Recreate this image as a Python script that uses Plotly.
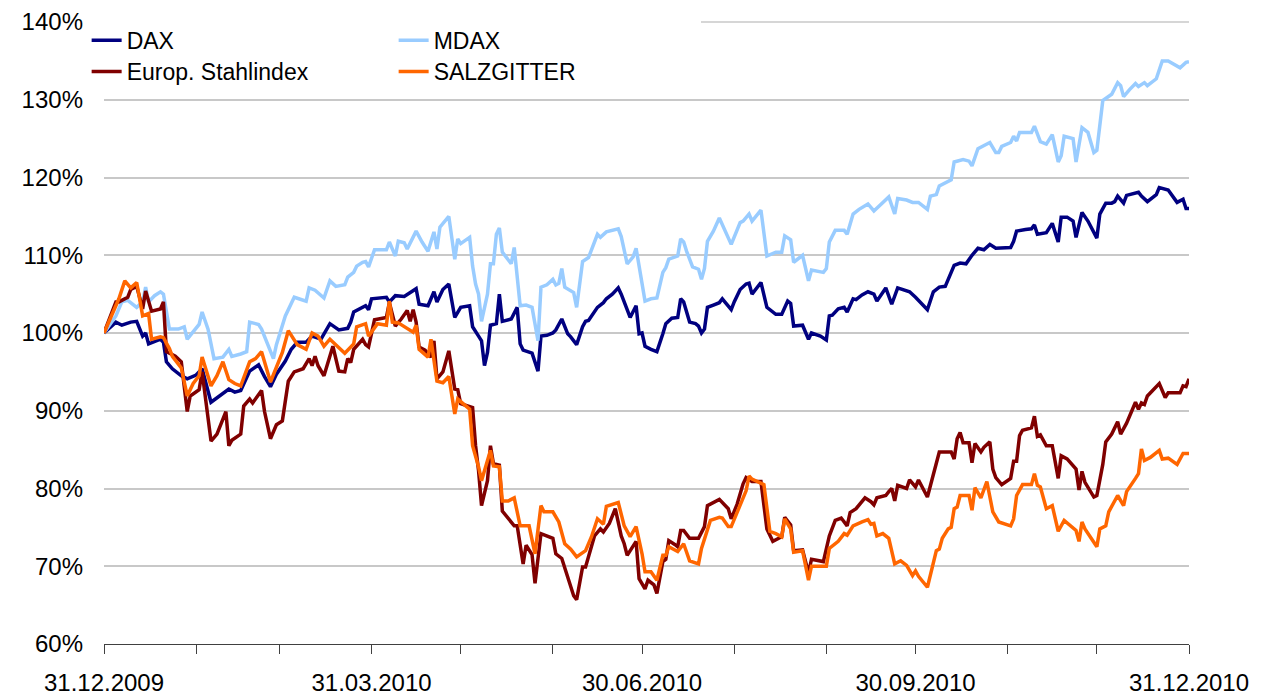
import pandas as pd
import plotly.graph_objects as go

BASE = pd.Timestamp("2009-12-31")

dax_days = [0,4,6,9,11,13,14,15,19,20,21,23,26,28,31,33,36,38,42,44,46,49,52,54,56,58,61,63,65,68,70,73,76,79,82,83,84,88,89,90,95,96,98,101,104,105,106,109,111,112,114,116,118,120,123,124,126,127,128,129,130,132,133,134,137,139,140,141,144,146,147,149,151,152,154,156,157,159,161,162,163,166,168,169,171,173,174,176,177,179,180,181,182,184,186,188,189,191,193,194,195,197,199,200,201,202,203,205,207,208,211,212,214,216,217,218,221,223,226,228,230,231,232,235,237,238,241,243,244,245,247,249,250,252,253,255,257,259,260,263,265,267,269,271,273,277,279,281,283,286,288,290,292,294,296,298,300,303,305,306,307,310,312,313,314,317,319,321,322,324,326,327,329,331,334,335,337,339,340,341,343,344,348,349,351,354,355,358,361,363,364,365]
dax_vals = [100.0,101.4,101.0,101.4,101.5,99.6,100.0,98.6,99.2,98.8,96.3,95.4,94.5,94.1,94.6,95.4,91.1,91.7,92.8,92.4,92.6,95.1,95.9,94.4,93.1,94.7,96.4,97.9,98.8,98.8,99.6,99.2,101.2,100.4,100.6,101.4,102.7,103.5,103.0,104.4,104.6,104.0,104.8,104.7,105.4,105.7,103.7,103.5,105.3,104.0,105.6,106.3,102.0,103.3,103.5,100.8,99.6,99.0,95.8,97.5,101.0,101.2,105.0,101.5,101.8,103.3,98.6,97.8,97.4,95.1,99.6,99.7,100.0,100.4,101.8,99.9,99.5,98.5,100.8,101.5,101.6,103.3,103.9,104.4,105.0,105.8,105.0,103.1,102.0,103.5,99.9,100.0,98.3,97.9,97.6,99.9,101.2,101.9,102.0,104.4,104.0,101.4,101.2,100.9,100.0,100.5,103.3,103.6,103.9,104.4,103.0,104.0,105.6,106.3,106.4,105.0,106.5,103.3,102.4,102.4,104.1,103.8,100.9,101.0,99.2,100.0,99.6,99.1,102.2,102.3,103.1,103.3,102.7,104.4,104.3,104.9,105.3,105.0,104.1,105.8,103.7,105.8,105.5,105.3,104.6,103.0,105.3,105.9,106.0,108.7,109.0,108.9,110.0,110.9,110.7,111.4,110.9,110.9,111.0,111.8,113.1,113.3,113.4,113.9,112.7,112.9,114.1,111.7,114.9,114.9,114.4,112.3,115.5,114.4,112.2,115.3,116.7,116.7,116.9,117.6,116.7,117.7,118.1,117.6,116.9,117.8,118.7,118.4,116.8,117.2,116.0,116.0]

mdax_days = [0,4,6,8,11,13,14,15,17,19,20,21,22,25,27,28,31,32,33,35,37,40,42,43,46,48,49,52,53,57,58,61,64,66,68,69,71,74,76,78,81,82,84,85,87,88,89,91,95,96,98,99,101,102,104,105,107,109,111,112,113,116,118,119,120,123,124,125,126,127,129,130,131,132,133,134,137,138,140,142,144,146,147,149,151,152,153,154,155,158,159,161,163,166,167,169,173,174,176,178,179,181,182,184,186,188,189,190,193,194,195,196,198,200,201,202,203,205,207,211,214,215,217,218,221,223,226,228,229,231,232,235,237,238,242,243,244,246,249,250,252,254,257,259,264,266,267,270,272,274,277,278,280,281,284,285,286,289,291,292,294,298,300,301,302,305,306,307,308,312,313,315,317,319,321,322,323,326,327,329,331,333,334,336,339,341,342,343,345,347,348,350,351,354,356,358,362,364,365]
mdax_vals = [100.0,102.2,104.0,104.2,103.3,104.0,105.9,104.0,104.8,105.3,105.0,102.7,100.5,100.5,100.8,99.2,100.5,101.1,102.7,100.5,96.7,96.9,97.9,97.0,97.3,97.6,101.4,101.1,100.5,96.7,98.5,102.2,104.6,104.3,104.1,105.8,105.5,104.5,106.7,106.0,106.2,107.2,107.8,108.6,109.1,109.2,108.5,110.7,110.7,111.7,109.9,111.8,111.6,110.8,112.5,113.1,111.7,110.5,113.0,110.8,113.6,115.0,109.5,112.1,111.5,112.3,108.6,106.3,105.0,101.5,105.0,108.9,108.9,112.7,113.5,110.4,108.9,111.0,103.5,103.6,103.3,99.0,105.9,106.2,106.9,106.2,106.4,108.3,105.9,105.2,103.3,109.2,109.7,112.7,112.3,113.0,113.4,112.4,108.9,109.8,110.9,106.7,104.1,104.4,104.5,107.8,108.4,109.5,109.9,112.1,111.7,110.5,108.5,108.2,106.9,108.3,111.8,113.1,114.8,111.4,114.2,114.4,115.3,114.4,115.8,109.9,110.4,110.4,112.5,112.0,109.1,110.0,106.7,108.1,107.8,108.3,111.7,113.2,113.2,112.7,115.3,115.9,116.6,115.7,117.5,115.3,117.3,117.1,116.8,116.8,115.9,117.6,117.8,118.9,119.5,119.7,122.0,122.3,122.1,121.5,123.7,124.5,123.2,123.2,124.0,124.5,125.3,124.7,125.8,125.8,126.6,124.6,124.3,125.5,122.0,122.8,125.3,125.0,122.0,126.4,125.8,123.2,123.5,129.9,130.7,132.2,131.8,130.4,131.3,132.1,131.7,132.2,131.8,132.7,135.0,135.0,134.1,134.8,134.9]

stahl_days = [0,4,5,8,9,11,13,14,16,19,20,21,24,26,28,29,32,33,36,38,41,42,43,46,47,49,50,53,54,56,58,60,62,64,67,69,70,71,72,74,77,79,81,82,83,84,87,88,89,91,95,96,98,100,102,103,104,105,106,108,110,111,112,114,116,118,119,120,124,125,126,127,129,130,131,133,134,136,138,139,141,142,144,145,147,151,152,154,156,158,159,161,162,165,167,168,170,172,174,175,176,179,180,182,183,185,186,188,189,190,192,193,194,195,197,200,202,203,207,210,211,213,215,216,218,221,223,225,227,228,229,231,232,235,237,238,242,244,246,248,250,251,253,256,258,259,260,263,264,265,266,267,270,271,273,274,277,279,281,285,286,287,288,289,291,292,293,295,296,298,299,300,302,305,306,307,308,309,312,313,314,315,317,319,321,322,324,327,328,329,330,333,334,336,337,339,341,342,344,347,348,349,350,351,355,357,358,362,363,364,365]
stahl_vals = [100.0,104.0,104.0,104.6,105.6,106.0,103.1,105.4,102.8,103.1,104.0,97.6,97.0,96.3,89.9,91.9,92.7,95.0,86.1,87.0,89.9,85.5,86.2,87.0,90.6,91.5,91.0,92.6,89.9,86.4,88.2,88.7,93.8,95.0,95.4,96.7,95.8,97.0,95.8,94.5,98.3,95.1,95.0,96.7,96.2,97.9,99.2,98.5,98.2,101.7,102.0,103.9,100.9,101.8,102.9,101.5,103.0,101.4,98.2,97.8,96.9,99.0,94.1,95.0,97.7,92.8,92.7,90.9,90.4,85.5,82.3,77.8,81.0,85.5,83.2,83.0,77.1,76.2,75.2,75.2,70.3,72.7,71.5,67.8,74.2,73.6,71.6,71.0,68.4,66.2,65.7,69.9,69.9,73.9,74.8,74.4,75.5,77.4,73.9,72.9,71.4,73.2,68.4,67.1,68.2,67.6,66.5,70.6,70.9,73.3,72.8,72.5,74.6,74.6,73.6,73.6,75.1,77.8,78.6,77.4,76.1,78.0,80.6,81.4,80.9,80.9,74.8,73.2,73.6,73.8,76.3,75.3,72.0,72.1,69.1,70.9,70.6,73.9,75.9,76.2,75.2,76.9,77.4,78.8,78.3,77.9,78.8,79.1,79.6,80.0,78.4,80.4,80.0,81.1,80.2,81.1,78.9,81.8,84.7,84.7,83.8,86.4,87.2,85.9,85.9,83.3,85.8,84.7,85.3,86.0,82.5,81.4,80.5,81.3,83.5,83.5,86.8,87.5,87.8,89.3,86.7,86.9,85.5,85.5,81.3,84.2,83.8,82.5,79.8,82.2,80.8,78.9,79.1,83.1,86.0,87.0,88.6,87.0,88.4,91.1,90.2,91.0,90.8,91.9,93.5,91.7,92.3,92.3,93.2,93.1,94.1]

szg_days = [0,4,5,7,9,11,13,15,16,19,20,22,23,26,28,30,32,33,36,38,40,42,44,46,49,51,53,56,58,60,62,64,65,68,70,72,74,76,78,81,84,85,88,89,92,95,96,97,99,102,104,105,106,109,110,112,114,116,118,119,123,124,126,127,130,131,133,134,136,138,140,143,145,147,148,151,153,155,157,159,162,164,166,168,169,173,174,175,177,179,181,182,184,186,188,189,190,193,195,197,200,201,204,207,208,210,211,213,216,217,218,222,224,226,228,229,231,232,235,237,238,243,244,247,249,250,252,255,257,258,259,260,262,264,266,268,270,272,273,274,277,280,281,282,284,285,286,287,288,291,292,293,295,297,299,301,303,305,306,307,309,312,313,314,315,317,319,321,323,327,328,329,330,334,335,337,338,341,343,344,347,348,349,350,352,355,356,358,361,363,365]
szg_vals = [100.0,103.5,104.4,106.7,105.8,106.5,102.2,102.5,99.2,99.5,99.4,98.0,97.0,95.5,91.9,93.5,94.5,96.9,93.2,94.5,96.3,94.0,93.5,93.2,96.3,96.7,97.6,93.7,95.5,97.5,100.3,99.0,98.5,97.9,100.0,99.6,98.3,99.2,98.5,97.4,98.6,100.8,101.2,99.6,101.2,101.0,104.1,101.4,101.3,100.5,100.1,101.0,97.9,96.9,99.2,93.8,93.6,94.4,89.6,91.5,90.2,85.5,82.8,81.0,84.9,82.9,82.8,78.4,78.4,78.8,75.2,75.2,71.6,77.8,77.0,77.0,75.7,72.9,72.2,71.2,72.0,73.8,76.1,75.4,77.7,78.2,76.7,75.2,73.8,75.1,71.6,69.3,69.3,68.2,71.4,71.4,72.5,71.9,72.9,70.7,70.3,72.3,75.9,76.3,76.2,75.1,75.1,76.9,79.7,81.6,81.2,80.5,74.5,74.2,73.8,76.1,74.8,71.8,72.0,68.2,70.0,70.0,72.3,73.2,74.2,74.0,75.2,75.7,76.0,75.4,75.5,73.9,74.2,73.6,70.3,70.7,70.1,68.8,69.4,68.7,67.3,72.0,72.2,73.6,74.8,75.0,77.4,77.6,79.1,79.1,77.2,80.1,78.8,80.9,77.0,75.7,75.5,75.2,76.1,79.1,80.5,80.5,81.9,80.4,80.2,77.4,77.8,74.5,75.9,74.6,73.2,75.7,74.8,72.5,74.8,75.2,77.0,79.1,77.8,79.6,81.3,81.9,85.1,83.6,84.0,84.9,83.8,83.9,83.1,84.5,84.5]

series_names = ["DAX", "MDAX", "Europ. Stahlindex", "SALZGITTER"]
series_colors = ["#000080", "#99CCFF", "#800000", "#FF6600"]
series_legend = ["legend", "legend", "legend2", "legend2"]

month_ends = ["2009-12-31", "2010-01-31", "2010-02-28", "2010-03-31", "2010-04-30",
              "2010-05-31", "2010-06-30", "2010-07-31", "2010-08-31", "2010-09-30",
              "2010-10-31", "2010-11-30", "2010-12-31"]
month_labels = ["31.12.2009", "", "", "31.03.2010", "", "", "30.06.2010", "", "",
                "30.09.2010", "", "", "31.12.2010"]
y_ticks = [60, 70, 80, 90, 100, 110, 120, 130, 140]
y_labels = ["60%", "70%", "80%", "90%", "100%", "110%", "120%", "130%", "140%"]


def to_dates(days):
    return BASE + pd.to_timedelta(days, unit="D")


data = [(dax_days, dax_vals), (mdax_days, mdax_vals), (stahl_days, stahl_vals), (szg_days, szg_vals)]

FONT = "Liberation Sans, Arial, sans-serif"
FS = 24
LFS = 23
GRID = "#C8C8C8"

fig = go.Figure()
for (d, v), name, color, lg in zip(data, series_names, series_colors, series_legend):
    fig.add_trace(go.Scatter(
        x=to_dates(d), y=v, mode="lines", name=name, legend=lg,
        line=dict(color=color, width=3.5),
    ))

# top gridline (plotly drops gridlines lying on the plot edge)
fig.add_shape(type="line", xref="paper", yref="paper", x0=0, x1=1, y0=1, y1=1,
              line=dict(color=GRID, width=1.5), layer="below")

legend_common = dict(
    orientation="h", xanchor="left", yanchor="top",
    bgcolor="white", borderwidth=0, entrywidth=262, entrywidthmode="pixels",
    font=dict(family=FONT, size=LFS, color="black"), tracegroupgap=0,
    itemclick=False, itemdoubleclick=False,
)

# page body has an 8px default margin, so the figure is sized to fit the window
fig.update_layout(
    width=1266, height=687,
    margin=dict(l=96, r=85, t=14, b=51, autoexpand=False),
    paper_bgcolor="white", plot_bgcolor="white",
    font=dict(family=FONT, size=FS, color="black"),
    showlegend=True,
    legend=dict(x=-0.016, y=1.005, **legend_common),
    legend2=dict(x=-0.016, y=0.955, **legend_common),
    xaxis=dict(
        type="date", range=["2009-12-31", "2010-12-31"],
        tickmode="array", tickvals=month_ends, ticktext=month_labels,
        ticks="outside", ticklen=9, tickwidth=1, tickcolor="#404040",
        showline=True, linecolor="#404040", linewidth=1,
        showgrid=False, zeroline=False, ticklabelstandoff=8, automargin=False,
        tickfont=dict(family=FONT, size=FS, color="black"),
    ),
    yaxis=dict(
        range=[60, 140], tickmode="array", tickvals=y_ticks, ticktext=y_labels,
        showgrid=True, gridcolor=GRID, gridwidth=1.5,
        zeroline=False, showline=False, ticks="", ticklabelstandoff=20, automargin=False,
        tickfont=dict(family=FONT, size=FS, color="black"),
    ),
)

fig.write_html("out.html")
